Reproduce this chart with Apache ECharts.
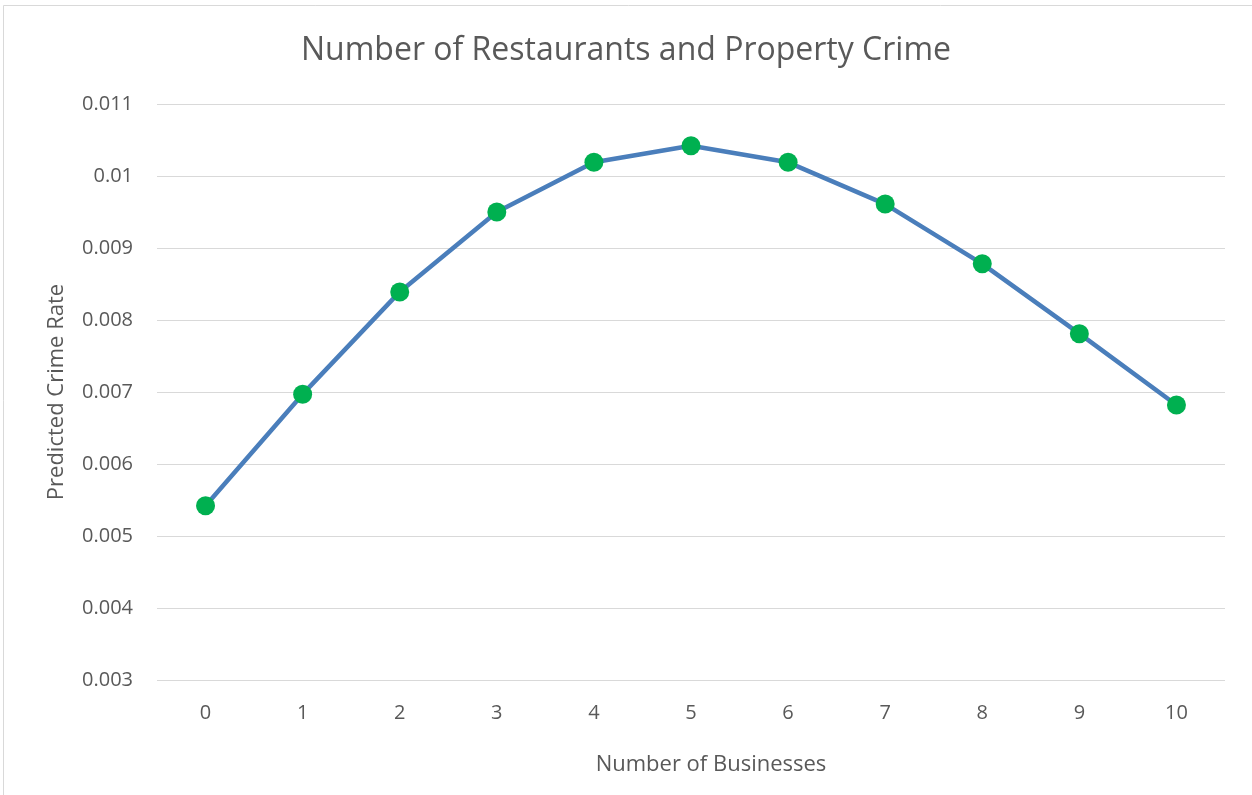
<!DOCTYPE html>
<html>
<head>
<meta charset="utf-8">
<script src="https://cdn.jsdelivr.net/npm/echarts@6/dist/echarts.min.js"></script>
<style>html,body{margin:0;padding:0;background:#fff}#c{width:1252px;height:795px}</style>
</head>
<body>
<div id="c"></div>
<script>
const categories = ['0','1','2','3','4','5','6','7','8','9','10'];
const crimeRate = [0.00542, 0.00697, 0.00839, 0.0095, 0.01019, 0.01042, 0.01019, 0.00961, 0.00878, 0.00781, 0.00682];
const yTicks = [0.003, 0.004, 0.005, 0.006, 0.007, 0.008, 0.009, 0.01, 0.011];

const chart = echarts.init(document.getElementById('c'));
const font = 'Open Sans';
chart.setOption({
  backgroundColor: '#fff',
  animation: false,
  title: {
    text: 'Number of Restaurants and Property Crime',
    left: 'center',
    top: 30,
    textStyle: {fontFamily: font, fontSize: 32, fontWeight: 'normal', color: '#595959'}
  },
  graphic: [{
    type: 'rect', silent: true,
    shape: {x: 3.5, y: 5.5, width: 1400, height: 1000},
    style: {fill: 'none', stroke: '#d9d9d9', lineWidth: 1}
  }],
  grid: {left: 157, right: 27, top: 104, bottom: 115},
  xAxis: {
    type: 'category',
    data: categories,
    boundaryGap: true,
    name: 'Number of Businesses',
    nameLocation: 'middle',
    nameGap: 74,
    nameTextStyle: {fontFamily: font, fontSize: 22, color: '#595959', padding: [0, 0, 0, 40]},
    axisLine: {show: false},
    axisTick: {show: false},
    axisLabel: {fontFamily: font, fontSize: 20, color: '#595959', margin: 23}
  },
  yAxis: {
    type: 'value',
    min: 0.003, max: 0.011, interval: 0.001,
    name: 'Predicted Crime Rate',
    nameLocation: 'middle',
    nameGap: 89,
    nameTextStyle: {fontFamily: font, fontSize: 22, color: '#595959'},
    axisLine: {show: false},
    axisTick: {show: false},
    splitLine: {lineStyle: {color: '#d9d9d9', width: 1}},
    axisLabel: {
      fontFamily: font, fontSize: 20, color: '#595959', margin: 24,
      formatter: v => { const t = yTicks.find(x => Math.abs(x - v) < 1e-9); return t !== undefined ? String(t) : ''; }
    }
  },
  series: [{
    type: 'line',
    data: crimeRate,
    symbol: 'circle',
    symbolSize: 19,
    lineStyle: {color: '#4a7ebb', width: 4.5},
    itemStyle: {color: '#00b050', borderWidth: 0},
    z: 3
  }]
});
</script>
</body>
</html>
